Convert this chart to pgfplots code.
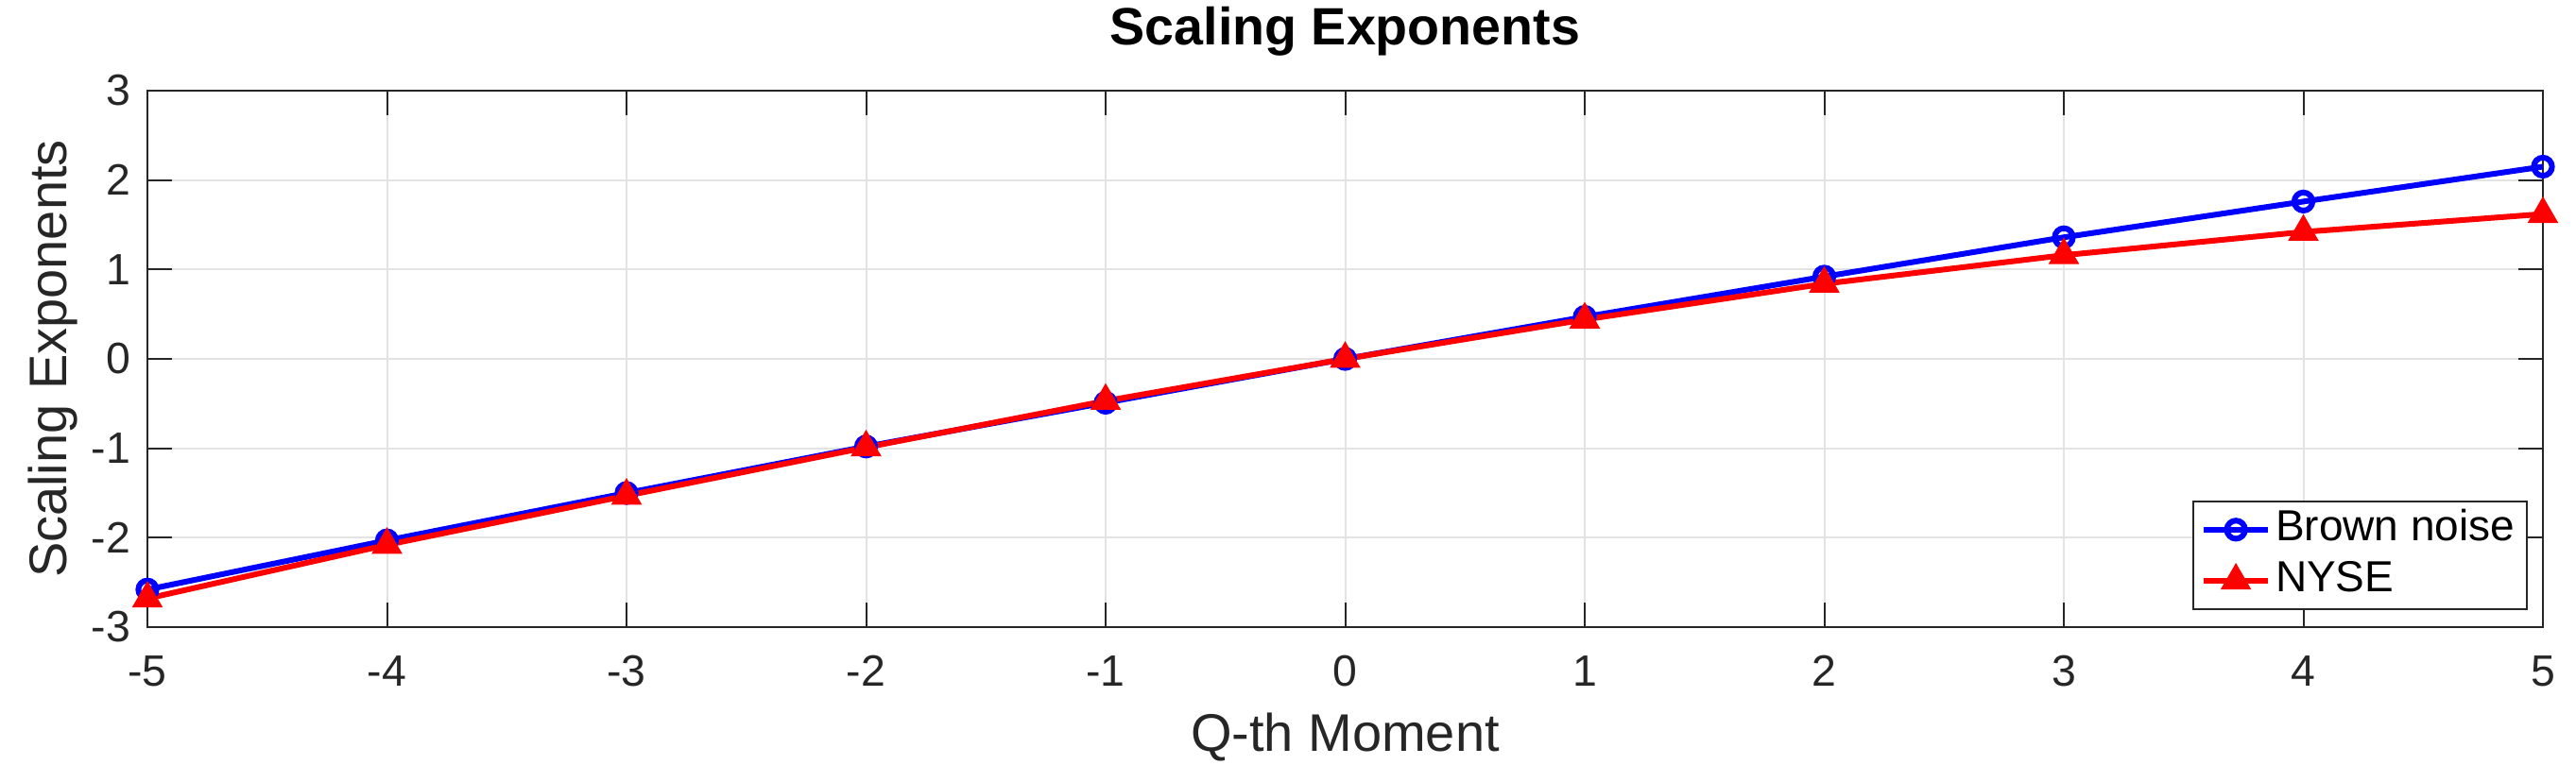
\documentclass[border=0pt]{standalone}
\usepackage{fontspec}
\setmainfont{Liberation Sans}
\usepackage{pgfplots}
\pgfplotsset{compat=1.18}
\definecolor{axgray}{HTML}{262626}
\definecolor{gridgray}{HTML}{E3E3E3}
\begin{document}
\begin{tikzpicture}
\begin{axis}[
  scale only axis, width=633.75pt, height=142pt,
  xmin=-5, xmax=5, ymin=-3, ymax=3,
  xtick={-5,-4,-3,-2,-1,0,1,2,3,4,5},
  ytick={-3,-2,-1,0,1,2,3},
  grid=major, major grid style={gridgray, line width=0.5pt},
  axis line style={axgray, line width=0.5pt},
  tick style={axgray, line width=0.5pt},
  tick align=inside, major tick length=6.4pt,
  /pgf/number format/assume math mode=true,
  ticklabel style={font=\fontsize{11.6}{13}\selectfont, text=axgray},
  xticklabel style={anchor=base, yshift=-15.5pt},
  yticklabel style={anchor=east, inner sep=0pt, xshift=-4.25pt},
  title={\bfseries Scaling Exponents},
  title style={at={(axis description cs:0.5,1)}, anchor=base, yshift=6.25pt, font=\fontsize{13.9}{16}\selectfont},
  xlabel={Q-th Moment}, ylabel={Scaling Exponents},
  label style={font=\fontsize{14}{16}\selectfont, text=axgray},
  xlabel style={at={(axis description cs:0.5,0)}, anchor=base, yshift=-32.75pt},
  ylabel style={at={(axis description cs:0,0.5)}, anchor=base, yshift=21.25pt},
  legend style={at={(axis description cs:1,0)}, anchor=south east, xshift=-4pt, yshift=4.5pt,
    draw=axgray, line width=0.5pt, font=\fontsize{11.5}{13}\selectfont,
    inner xsep=2pt, inner ysep=0.8pt, row sep=0pt,
    nodes={text height=8.5pt, text depth=2.6pt, inner sep=1.2pt}},
  legend cell align=left,
  legend image code/.code={\draw[mark repeat=2,mark phase=2] plot coordinates {(0cm,0cm)(0.3cm,0cm)(0.6cm,0cm)};},
]
\addplot[blue, line width=1.5pt, mark=o, mark size=2.4pt, mark options={solid}] coordinates {
(-5,-2.58)(-4,-2.03)(-3,-1.50)(-2,-0.98)(-1,-0.49)(0,0)(1,0.47)(2,0.92)(3,1.36)(4,1.76)(5,2.15)};
\addlegendentry{Brown noise}
\addplot[red, line width=1.5pt, mark=triangle*, mark size=3.2pt, mark options={solid}] coordinates {
(-5,-2.68)(-4,-2.08)(-3,-1.53)(-2,-0.99)(-1,-0.47)(0,0)(1,0.44)(2,0.84)(3,1.16)(4,1.42)(5,1.62)};
\addlegendentry{NYSE}
\end{axis}
\pgfresetboundingbox
\path ([xshift=-39pt,yshift=-40.75pt]current axis.south west) rectangle ([xshift=8.75pt,yshift=24pt]current axis.north east);
\end{tikzpicture}
\end{document}
